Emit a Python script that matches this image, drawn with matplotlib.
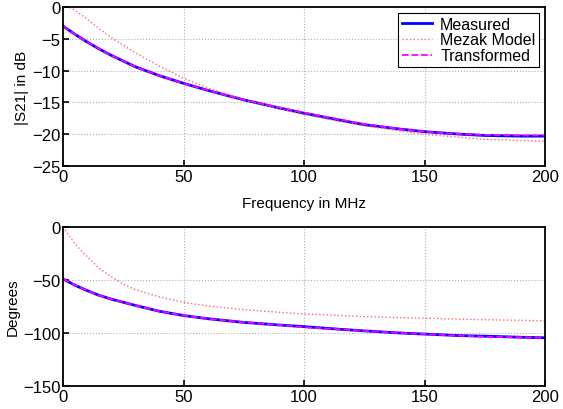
import numpy as np
import matplotlib.pyplot as plt

plt.rcParams['font.family'] = ['Liberation Sans', 'DejaVu Sans']

# frequency points (MHz)
freq = [0, 5, 10, 15, 20, 25, 30, 40, 50, 60, 75, 90, 100, 115, 125, 140, 150, 165, 175, 190, 200]

# |S21| in dB
mag_meas = [-3.0, -4.3, -5.5, -6.6, -7.6, -8.5, -9.4, -10.8, -12.0, -13.1, -14.6, -15.9, -16.7, -17.8, -18.5, -19.2, -19.6, -20.0, -20.2, -20.3, -20.3]
mag_mezak = [0.4, -0.5, -1.9, -3.4, -4.8, -6.0, -7.2, -9.3, -11.2, -12.7, -14.6, -16.0, -16.9, -18.0, -18.7, -19.5, -20.0, -20.5, -20.8, -21.0, -21.1]
mag_trans = [-3.0, -4.3, -5.5, -6.6, -7.6, -8.5, -9.4, -10.8, -12.0, -13.1, -14.6, -15.8, -16.6, -17.7, -18.4, -19.2, -19.6, -20.0, -20.1, -20.2, -20.2]

# phase in degrees
ph_meas = [-49, -55, -60, -64.5, -68, -71, -74, -79.5, -83.5, -86.5, -90, -92.5, -94, -96.5, -98, -100, -101, -102.5, -103, -104, -104.5]
ph_mezak = [0, -16, -28, -39, -47, -54, -59, -66, -71, -74.5, -78, -80.5, -82, -83.5, -84.5, -85.5, -86, -87, -87.5, -88, -88.5]
ph_trans = [-49, -55, -60, -64.5, -68, -71, -74, -79.5, -83.5, -86.5, -90, -92.5, -94.5, -96.5, -98, -100, -101, -102.5, -103.5, -104, -104.5]

fig = plt.figure(figsize=(5.63, 4.10), dpi=100)
ax1 = fig.add_axes([63/563, 1-167/410, 482/563, 159/410])
ax2 = fig.add_axes([63/563, 1-387/410, 482/563, 159/410])

for ax in (ax1, ax2):
    ax.set_xlim(0, 200)
    ax.set_xticks([0, 50, 100, 150, 200])
    ax.grid(True, linestyle=':', color='#b0b0b0', linewidth=0.8)
    ax.tick_params(direction='in', labelsize=12, length=4, width=1.2, pad=2)
    for s in ax.spines.values():
        s.set_linewidth(1.3)

ax1.plot(freq, mag_meas, color='#0000ff', lw=2, label='Measured')
ax1.plot(freq, mag_mezak, color='#ff6666', lw=1, ls=':', label='Mezak Model')
ax1.plot(freq, mag_trans, color='#ff00ff', lw=1.3, ls='--', label='Transformed')
ax1.set_ylim(-25, 0)
ax1.set_yticks([-25, -20, -15, -10, -5, 0])
ax1.set_ylabel('|S21| in dB', fontsize=11, labelpad=2)
ax1.set_xlabel('Frequency in MHz', fontsize=11, labelpad=9)
leg = ax1.legend(loc='upper right', fontsize=11.5, fancybox=False, framealpha=1,
                 edgecolor='black', borderpad=0.25, labelspacing=0.05, handlelength=1.9,
                 handletextpad=0.5, borderaxespad=0.35)
leg.get_frame().set_linewidth(0.8)

ax2.plot(freq, ph_meas, color='#0000ff', lw=2)
ax2.plot(freq, ph_mezak, color='#ff6666', lw=1, ls=':')
ax2.plot(freq, ph_trans, color='#ff00ff', lw=1.3, ls='--')
ax2.set_ylim(-150, 0)
ax2.set_yticks([-150, -100, -50, 0])
ax2.set_ylabel('Degrees', fontsize=11, labelpad=2)

fig.savefig('out.png', dpi=100)
